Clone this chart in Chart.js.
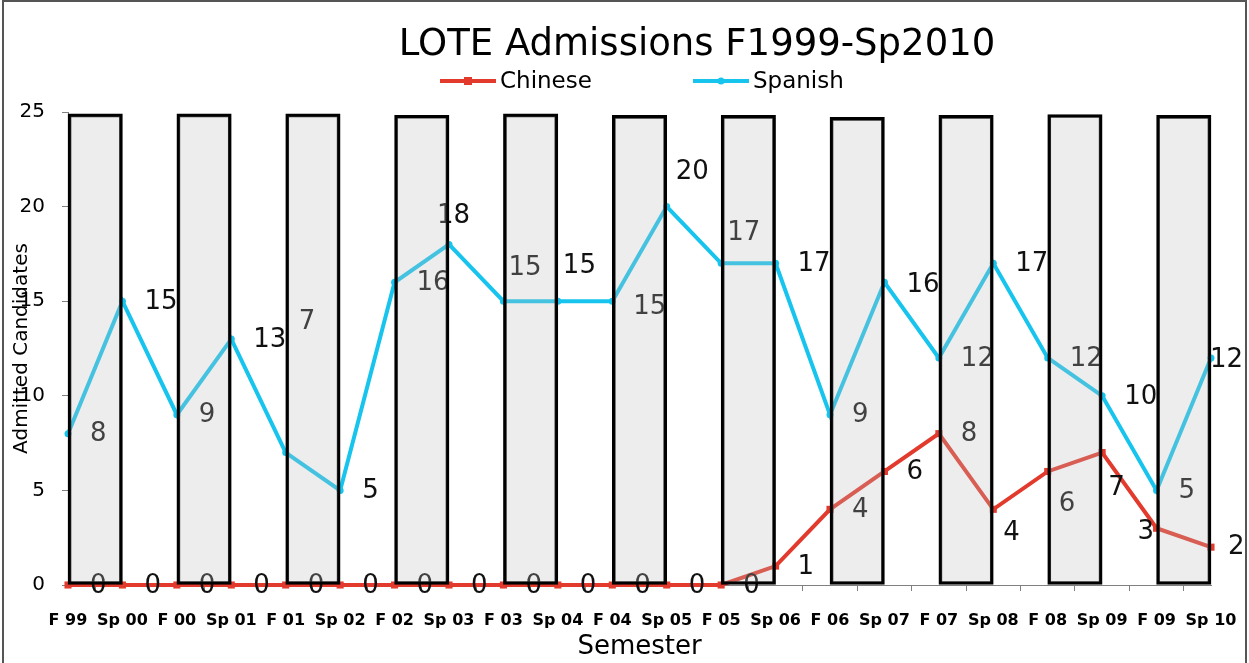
<!DOCTYPE html>
<html>
<head>
<meta charset="utf-8">
<script src="https://cdn.jsdelivr.net/npm/chart.js@4.4.1/dist/chart.umd.min.js"></script>
<style>
  html, body { margin: 0; padding: 0; background: #ffffff; }
  canvas { display: block; }
</style>
</head>
<body>
<canvas id="chart" width="1249" height="663"></canvas>
<script>
// ---------- data ----------
const semesters = ['F 99','Sp 00','F 00','Sp 01','F 01','Sp 02','F 02','Sp 03','F 03','Sp 04','F 04',
                   'Sp 05','F 05','Sp 06','F 06','Sp 07','F 07','Sp 08','F 08','Sp 09','F 09','Sp 10'];
const chineseAdmits = [0,0,0,0,0,0,0,0,0,0,0,0,0,1,4,6,8,4,6,7,3,2];
const spanishAdmits = [8,15,9,13,7,5,16,18,15,15,15,20,17,17,9,16,12,17,12,10,5,12];
// shaded academic-year bands (Fall -> Spring), height
const yearBandTops = [24.9,24.9,24.9,24.83,24.9,24.82,24.82,24.72,24.82,24.87,24.82];
const yMin = 0, yMax = 25, yStep = 5;

// ---------- style ----------
const FONT = '"DejaVu Sans", Verdana, sans-serif';
const RED = '#E23A2C';
const CYAN = '#17C4EE';
const labelDefaultShift = [22, 1];
const spanishLabelShift = {4: [13, -130], 7: [-12, -28], 8: [5, -33], 9: [5, -35], 10: [21, 6],
                           11: [9, -34], 12: [6, -30], 15: [22, 3], 21: [-1, 2]};
const chineseLabelShift = {17: [10, 24], 18: [11, 33], 19: [6, 36], 20: [-19, 4], 21: [17, 0]};

const toPoints = arr => arr.map((v, i) => ({x: i, y: v}));
const bands = yearBandTops.map((top, k) => ({x: 2 * k + 0.5, y: [0, top]}));

const valueLabels = {
  id: 'valueLabels',
  afterDatasetDraw(chart, args) {
    const ds = chart.data.datasets[args.index];
    if (!ds.labelShift) return;
    const ctx = chart.ctx;
    ctx.save();
    ctx.font = '26px ' + FONT;
    ctx.fillStyle = '#111111';
    ctx.textAlign = 'left';
    ctx.textBaseline = 'middle';
    args.meta.data.forEach((pt, i) => {
      const s = ds.labelShift[i] || labelDefaultShift;
      ctx.fillText(String(ds.data[i].y), pt.x + s[0], pt.y + s[1]);
    });
    ctx.restore();
  }
};

const decor = {
  id: 'decor',
  afterDraw(chart) {
    const ctx = chart.ctx;
    ctx.save();
    // outer frame
    ctx.strokeStyle = '#555555';
    ctx.lineWidth = 2;
    ctx.strokeRect(3, 1, 1243, 700);
    // title
    ctx.fillStyle = '#000000';
    ctx.font = '37px ' + FONT;
    ctx.textAlign = 'center';
    ctx.textBaseline = 'alphabetic';
    ctx.fillText('LOTE Admissions F1999-Sp2010', 697, 55);
    // legend
    const items = [
      {x: 440, color: RED, marker: 'rect', text: 'Chinese'},
      {x: 693, color: CYAN, marker: 'circle', text: 'Spanish'}
    ];
    items.forEach(it => {
      const y = 81;
      ctx.strokeStyle = it.color;
      ctx.lineWidth = 4;
      ctx.beginPath();
      ctx.moveTo(it.x, y);
      ctx.lineTo(it.x + 56, y);
      ctx.stroke();
      ctx.fillStyle = it.color;
      if (it.marker === 'rect') {
        ctx.fillRect(it.x + 24, y - 4, 8, 8);
      } else {
        ctx.beginPath();
        ctx.arc(it.x + 28, y, 3.5, 0, Math.PI * 2);
        ctx.fill();
      }
      ctx.fillStyle = '#000000';
      ctx.font = '23px ' + FONT;
      ctx.textAlign = 'left';
      ctx.fillText(it.text, it.x + 60, 88);
    });
    ctx.restore();
  }
};

new Chart(document.getElementById('chart'), {
  type: 'line',
  data: {
    datasets: [
      {
        type: 'bar',
        label: 'Academic year',
        data: bands,
        order: 0,
        backgroundColor: 'rgba(190,190,190,0.28)',
        borderColor: '#000000',
        borderWidth: 3,
        borderSkipped: false,
        categoryPercentage: 1,
        barPercentage: 1,
        clip: false
      },
      {
        label: 'Chinese',
        data: toPoints(chineseAdmits),
        order: 1,
        borderColor: RED,
        backgroundColor: RED,
        borderWidth: 4,
        pointStyle: 'rect',
        pointRadius: 5,
        pointBorderWidth: 0,
        pointBackgroundColor: RED,
        tension: 0,
        clip: false,
        labelShift: chineseLabelShift
      },
      {
        label: 'Spanish',
        data: toPoints(spanishAdmits),
        order: 2,
        borderColor: CYAN,
        backgroundColor: CYAN,
        borderWidth: 4,
        pointStyle: 'circle',
        pointRadius: 3.5,
        pointBorderWidth: 0,
        pointBackgroundColor: CYAN,
        tension: 0,
        clip: false,
        labelShift: spanishLabelShift
      }
    ]
  },
  options: {
    responsive: false,
    animation: false,
    devicePixelRatio: 1,
    layout: {padding: {top: 112, right: 38, bottom: 0, left: 0}},
    plugins: {
      legend: {display: false},
      title: {display: false},
      tooltip: {enabled: false}
    },
    scales: {
      x: {
        type: 'linear',
        min: 0,
        max: semesters.length - 1,
        offset: false,
        afterFit(scale) { scale.height = 78; scale.paddingLeft = 0; scale.paddingRight = 0; },
        ticks: {
          stepSize: 1,
          autoSkip: false,
          maxRotation: 0,
          minRotation: 0,
          padding: 20,
          color: '#000000',
          font: {family: FONT, size: 16, weight: 'bold'},
          callback: v => semesters[Math.round(v)] ?? ''
        },
        grid: {drawOnChartArea: false, drawTicks: true, tickLength: 6, color: '#808080'},
        border: {display: true, color: '#808080', width: 1},
        title: {display: true, text: 'Semester', color: '#000000',
                font: {family: FONT, size: 26}, padding: {top: 0, bottom: 0}}
      },
      y: {
        min: yMin,
        max: yMax,
        afterFit(scale) { scale.width = 68; },
        ticks: {stepSize: yStep, padding: 17, color: '#000000', font: {family: FONT, size: 20}},
        grid: {drawOnChartArea: false, drawTicks: true, tickLength: 6, color: '#808080'},
        border: {display: true, color: '#808080', width: 1},
        title: {display: true, text: 'Admitted Candidates', color: '#000000',
                font: {family: FONT, size: 20}, padding: {top: 10, bottom: 0}}
      }
    }
  },
  plugins: [valueLabels, decor]
});
</script>
</body>
</html>
